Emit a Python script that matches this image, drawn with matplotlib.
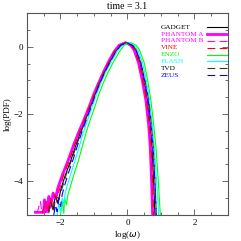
import matplotlib
matplotlib.use("Agg")
import matplotlib.pyplot as plt
from matplotlib.ticker import MultipleLocator

plt.rcParams['font.family'] = ['Liberation Serif', 'DejaVu Serif']

# shared log(PDF) levels of the smooth part (left branch up, peak, right branch down)
y_levels = [-4.2, -3.8, -3.4, -2.9, -2.5, -2.2, -1.8, -1.4, -1.05, -0.72, -0.42, -0.15,
            0.04, 0.12, 0.04, -0.1, -0.48, -0.99, -1.6, -2.3, -3.0, -4.0, -5.0]

# noisy low tails (left end)
tx_gadget = [-2.6, -2.45, -2.4, -2.35, -2.3, -2.22, -2.15, -2.08]
ty_gadget = [-4.92, -4.92, -4.6, -4.9, -4.5, -4.85, -4.4, -4.65]
tx_pha = [-2.75, -2.5, -2.48, -2.4, -2.35, -2.3, -2.22, -2.15]
ty_pha = [-4.92, -4.92, -4.55, -4.9, -4.45, -4.75, -4.35, -4.5]
tx_phb = [-2.7, -2.6, -2.55, -2.45, -2.38, -2.3, -2.2, -2.12]
ty_phb = [-4.95, -4.6, -4.95, -4.9, -4.5, -4.8, -4.4, -4.55]
tx_vine = [-2.55, -2.45, -2.38, -2.3, -2.25, -2.18, -2.1]
ty_vine = [-4.95, -4.6, -4.9, -4.5, -4.85, -4.4, -4.5]
tx_enzo = [-2.0, -1.95, -1.9, -1.88, -1.82, -1.78]
ty_enzo = [-5.0, -4.6, -4.95, -4.5, -4.7, -4.4]
tx_flash = [-2.1, -2.05, -2.0, -1.95, -1.9, -1.87]
ty_flash = [-5.0, -4.65, -4.95, -4.5, -4.7, -4.4]
tx_tvd = [-2.35, -2.3, -2.2, -2.15, -2.08, -2.02]
ty_tvd = [-4.95, -4.6, -4.9, -4.45, -4.7, -4.4]
tx_zeus = [-2.2, -2.15, -2.1, -2.05, -2.0, -1.95]
ty_zeus = [-5.0, -4.7, -4.9, -4.5, -4.75, -4.4]

# log(omega) where each code crosses y_levels
x_gadget = [-1.98, -1.85, -1.7, -1.53, -1.39, -1.27, -1.12, -0.97, -0.82, -0.67, -0.52, -0.37,
            -0.22, -0.04, 0.13, 0.24, 0.37, 0.48, 0.59, 0.67, 0.73, 0.78, 0.82]
x_pha = [-2.08, -1.94, -1.78, -1.6, -1.44, -1.31, -1.15, -1.0, -0.85, -0.7, -0.55, -0.4,
         -0.25, -0.06, 0.1, 0.2, 0.33, 0.44, 0.55, 0.63, 0.68, 0.72, 0.75]
x_phb = [-2.05, -1.92, -1.76, -1.58, -1.43, -1.3, -1.14, -0.99, -0.85, -0.7, -0.55, -0.4,
         -0.25, -0.06, 0.1, 0.2, 0.33, 0.45, 0.56, 0.64, 0.69, 0.73, 0.76]
x_vine = [-2.02, -1.9, -1.74, -1.57, -1.42, -1.3, -1.14, -0.99, -0.84, -0.69, -0.54, -0.39,
          -0.24, -0.05, 0.11, 0.21, 0.34, 0.46, 0.57, 0.65, 0.71, 0.75, 0.78]
x_enzo = [-1.72, -1.6, -1.47, -1.33, -1.22, -1.12, -0.98, -0.85, -0.71, -0.56, -0.4, -0.24,
          -0.1, 0.09, 0.26, 0.36, 0.5, 0.6, 0.7, 0.78, 0.85, 0.92, 0.98]
x_flash = [-1.82, -1.7, -1.57, -1.42, -1.3, -1.2, -1.06, -0.92, -0.78, -0.63, -0.47, -0.31,
           -0.16, 0.02, 0.2, 0.31, 0.45, 0.56, 0.66, 0.74, 0.8, 0.87, 0.93]
x_tvd = [-1.95, -1.83, -1.68, -1.51, -1.37, -1.26, -1.11, -0.96, -0.82, -0.67, -0.51, -0.36,
         -0.21, -0.03, 0.15, 0.26, 0.4, 0.52, 0.63, 0.71, 0.77, 0.82, 0.86]
x_zeus = [-1.9, -1.78, -1.64, -1.48, -1.35, -1.24, -1.09, -0.95, -0.81, -0.66, -0.5, -0.35,
          -0.2, -0.02, 0.15, 0.26, 0.4, 0.51, 0.62, 0.7, 0.76, 0.82, 0.86]

codes = ['GADGET', 'PHANTOM A', 'PHANTOM B', 'VINE', 'ENZO', 'FLASH', 'TVD', 'ZEUS']
xs = [tx_gadget + x_gadget, tx_pha + x_pha, tx_phb + x_phb, tx_vine + x_vine,
      tx_enzo + x_enzo, tx_flash + x_flash, tx_tvd + x_tvd, tx_zeus + x_zeus]
ys = [ty_gadget + y_levels, ty_pha + y_levels, ty_phb + y_levels, ty_vine + y_levels,
      ty_enzo + y_levels, ty_flash + y_levels, ty_tvd + y_levels, ty_zeus + y_levels]
colors = ['black', '#ff00ff', '#ff00ff', '#ff0000', '#00ff00', '#00ffff', '#333333', '#0000ff']
text_colors = ['black', '#ff00ff', '#ff00ff', '#ff0000', '#00ff00', '#00ffff', 'black', '#0000ff']
dash = (0, (7, 4))
styles = ['-', '-', dash, dash, '-', '-', dash, dash]
widths = [0.8, 2.0, 0.8, 0.8, 0.8, 0.8, 0.8, 0.8]

fig = plt.figure(figsize=(2.41, 2.41), dpi=100)
ax = fig.add_axes([0.112, 0.108, 0.834, 0.838])

for x, y, c, ls, lw in zip(xs, ys, colors, styles, widths):
    ax.plot(x, y, color=c, ls=ls, lw=lw)

# legend: text left, line sample at right edge
for i, (name, c, tc, ls, lw) in enumerate(zip(codes, colors, text_colors, styles, widths)):
    yy = 0.93 - i * 0.034
    ax.text(0.667, yy, name, color=tc, fontsize=5.2, transform=ax.transAxes, va='center')
    ax.plot([0.895, 0.995], [yy, yy], color=c, ls=ls, lw=lw, transform=ax.transAxes)

ax.set_xlim(-3, 3)
ax.set_ylim(-5, 1)
ax.xaxis.set_major_locator(MultipleLocator(2))
ax.xaxis.set_minor_locator(MultipleLocator(0.5))
ax.yaxis.set_major_locator(MultipleLocator(2))
ax.yaxis.set_minor_locator(MultipleLocator(0.5))
ax.tick_params(which='both', direction='in', top=True, right=True, labelsize=6.5,
               color='#555555', pad=3)
ax.tick_params(which='major', length=4, width=0.6)
ax.tick_params(which='minor', length=2.5, width=0.6)
for s in ax.spines.values():
    s.set_color('#555555')
    s.set_linewidth(0.8)

ax.set_xlabel('log($\\omega$)', fontsize=6.5, labelpad=1)
ax.set_ylabel('log(PDF)', fontsize=6.5, labelpad=1)
ax.set_title('time = 3.1', fontsize=7, pad=3)

fig.savefig('out.png', dpi=100)
